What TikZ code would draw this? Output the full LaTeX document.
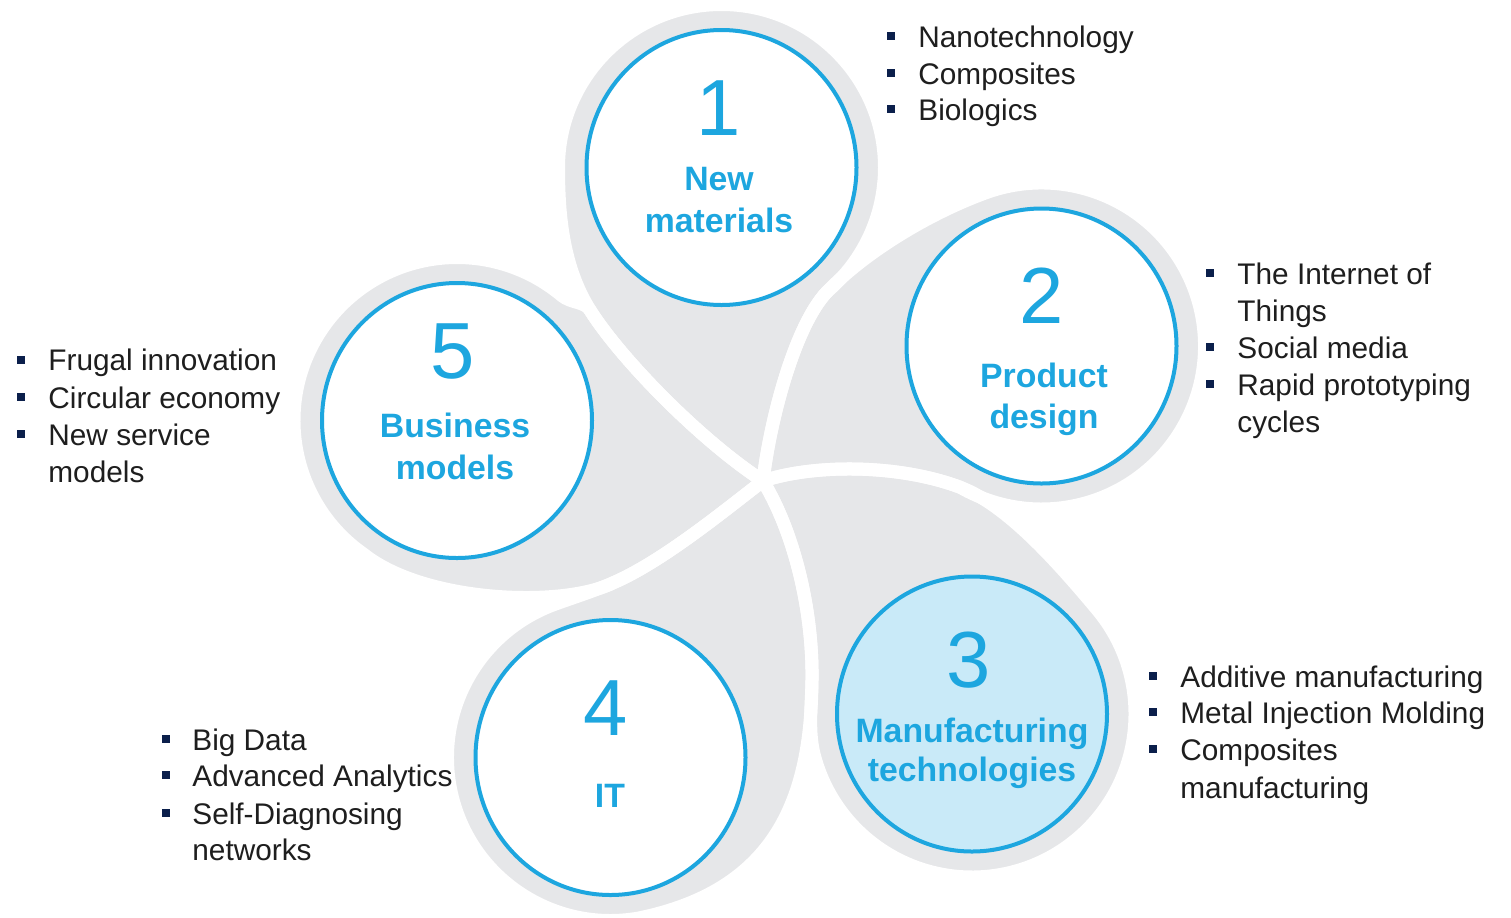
\documentclass[tikz,border=0pt]{standalone}
\usepackage{fontspec}
\setmainfont{Liberation Sans}
\usetikzlibrary{shapes.geometric}
\definecolor{petal}{HTML}{E6E7E9}
\definecolor{ringblue}{HTML}{1DA6DF}
\definecolor{lightfill}{HTML}{C9EAF8}
\definecolor{navy}{HTML}{0B1F4B}
\definecolor{txt}{HTML}{1E1E1E}
\newcommand\petalOne{(O) .. controls (700,440) and (620,358) .. (Ja) .. controls (563.5,267.5) and (558.5,217.5) .. (558.5,167.5) arc[start angle=180, end angle=409.5, radius=163] .. controls (795,325) and (770,420) .. (O) -- cycle}
\newcommand\petalTwo{(O) .. controls (770,420) and (795,325) .. (Jb) .. controls (865.6,251.8) and (929.4,213.3) .. (985.75,192.83) arc[start angle=250, end angle=480, radius=163] .. controls (895,463) and (810,465) .. (O) -- cycle}
\newcommand\petalThree{(O) .. controls (810,465) and (895,463) .. (Jc) .. controls (1006.9,504.7) and (1058.3,563.2) .. (1096.87,609.23) arc[start angle=-40, end angle=165, radius=163] .. controls (808,732) and (811.6,705) .. (Jd) .. controls (813,610) and (794,532) .. (O) -- cycle}
\newcommand\petalFour{(O) .. controls (794,532) and (813,610) .. (Jd) .. controls (811,800) and (775,890) .. (638.8,918.0) arc[start angle=80, end angle=250, radius=163] .. controls (573.6,597.5) and (596.7,590.1) .. (Je) .. controls (665,560) and (730,506) .. (O) -- cycle}
\newcommand\petalFive{(O) .. controls (730,506) and (665,560) .. (Je) .. controls (565,608) and (425,603) .. (363.51,554.02) arc[start angle=125, end angle=310, radius=163] .. controls (571,303.3) and (584.7,301.5) .. (Ja) .. controls (620,358) and (700,440) .. (O) -- cycle}
\begin{document}
\begin{tikzpicture}[x=0.5pt,y=-0.5pt,
  ring/.style={ellipse, draw=ringblue, line width=2pt, fill=white, minimum width=135pt, minimum height=137.5pt, inner sep=0pt},
  num/.style={anchor=base, text=ringblue, font=\fontsize{39.8}{40}\selectfont, inner sep=0pt},
  lab/.style={anchor=base, text=ringblue, font=\fontsize{16.9}{17}\selectfont\bfseries, inner sep=0pt},
  item/.style={anchor=base west, text=txt, font=\fontsize{14.9}{15}\selectfont, inner sep=0pt},
  sq/.style={fill=navy, minimum size=4pt, inner sep=0pt},
  petalfill/.style={fill=petal},
  petaledge/.style={draw=white, line width=6.5pt, line join=round},
]
\useasboundingbox (0,0) rectangle (1511,917);
\fill[white] (0,0) rectangle (1511,917);
\coordinate (O) at (763,481);
\coordinate (Ja) at (590,310);
\coordinate (Jb) at (827.4,291.4);
\coordinate (Jc) at (960,487.16);
\coordinate (Jd) at (812,680);
\coordinate (Je) at (615,582);
% petals: fills first, then white outlines
\path[petalfill] \petalOne;
\path[petalfill] \petalTwo;
\path[petalfill] \petalThree;
\path[petalfill] \petalFour;
\path[petalfill] \petalFive;
\path[petaledge] \petalOne;
\path[petaledge] \petalTwo;
\path[petaledge] \petalThree;
\path[petaledge] \petalFour;
\path[petaledge] \petalFive;
% rings
\node[ring] (r1) at (721.5,167.5) {};
\node[ring] (r2) at (1041.5,346) {};
\node[ring, fill=lightfill] (r3) at (972,714) {};
\node[ring] (r4) at (610.5,757.5) {};
\node[ring] (r5) at (457,420.5) {};
% circle texts
\node[num] (n1) at (719,135) {1};
\node[lab] (t1a) at (719,190) {New};
\node[lab] (t1b) at (719,232) {materials};
\node[num] (n2) at (1042,323) {2};
\node[lab] (t2a) at (1044,387) {Product};
\node[lab] (t2b) at (1044,428) {design};
\node[num] (n3) at (969,687) {3};
\node[lab] (t3a) at (972,742) {Manufacturing};
\node[lab] (t3b) at (972,781) {technologies};
\node[num] (n4) at (606,735) {4};
\node[lab] (t4a) at (610,807) {IT};
\node[num] (n5) at (453,378) {5};
\node[lab] (t5a) at (455,437) {Business};
\node[lab] (t5b) at (455,479) {models};
% list 1
\node[sq] (b1a) at (891,36) {};
\node[sq] (b1b) at (891,73) {};
\node[sq] (b1c) at (891,109) {};
\node[item] (l1a) at (918,47) {Nanotechnology};
\node[item] (l1b) at (918,84) {Composites};
\node[item] (l1c) at (918,120) {Biologics};
% list 2
\node[sq] (b2a) at (1210,273) {};
\node[sq] (b2b) at (1210,347) {};
\node[sq] (b2c) at (1210,384) {};
\node[item] (l2a) at (1237,284) {The Internet of};
\node[item] (l2b) at (1237,321) {Things};
\node[item] (l2c) at (1237,358) {Social media};
\node[item] (l2d) at (1237,395) {Rapid prototyping};
\node[item] (l2e) at (1237,432) {cycles};
% list 3
\node[sq] (b3a) at (1153,676) {};
\node[sq] (b3b) at (1153,712) {};
\node[sq] (b3c) at (1153,749) {};
\node[item] (l3a) at (1180,687) {Additive manufacturing};
\node[item] (l3b) at (1180,723) {Metal Injection Molding};
\node[item] (l3c) at (1180,760) {Composites};
\node[item] (l3d) at (1180,798) {manufacturing};
% list 4
\node[sq] (b4a) at (166,739) {};
\node[sq] (b4b) at (166,775) {};
\node[sq] (b4c) at (166,813) {};
\node[item] (l4a) at (192,750) {Big Data};
\node[item] (l4b) at (192,786) {Advanced Analytics};
\node[item] (l4c) at (192,824) {Self-Diagnosing};
\node[item] (l4d) at (192,860) {networks};
% list 5
\node[sq] (b5a) at (21,360) {};
\node[sq] (b5b) at (21,397) {};
\node[sq] (b5c) at (21,434) {};
\node[item] (l5a) at (48,370) {Frugal innovation};
\node[item] (l5b) at (48,408) {Circular economy};
\node[item] (l5c) at (48,445) {New service};
\node[item] (l5d) at (48,482) {models};
\end{tikzpicture}
\end{document}
